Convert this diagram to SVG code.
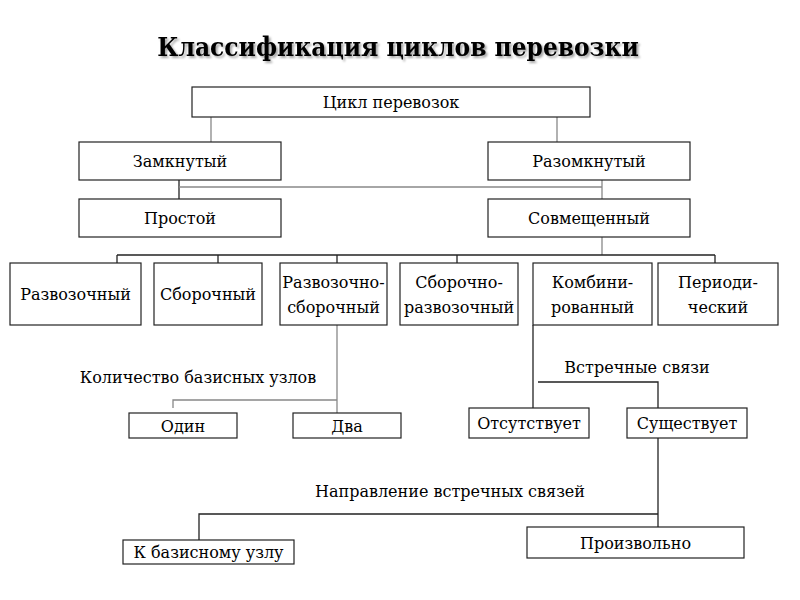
<svg xmlns="http://www.w3.org/2000/svg" width="800" height="600" viewBox="0 0 800 600">
<defs>
<style>
text{font-family:'DejaVu Serif','Liberation Serif',serif;fill:#000;text-anchor:middle}
.t{font-size:16px}
.title{font-size:26px;font-weight:bold;font-stretch:condensed}
rect{fill:#fff;stroke:#222;stroke-width:1.2}
.c line,.c polyline{fill:none;stroke:#222;stroke-width:1.3}
.c .g{stroke:#888}
</style>
<filter id="sh" x="-5%" y="-20%" width="110%" height="150%"><feDropShadow dx="2" dy="2" stdDeviation="1.2" flood-color="#000" flood-opacity="0.35"/></filter>
</defs>
<rect x="0" y="0" width="800" height="600" style="fill:#fff;stroke:none"/>
<text class="title" x="398" y="56" filter="url(#sh)">Классификация циклов перевозки</text>

<g class="c" id="connectors">
<line class="g" x1="211" y1="117" x2="211" y2="142"/>
<line class="g" x1="557" y1="117" x2="557" y2="142"/>
<line x1="179" y1="180" x2="179" y2="199"/>
<line class="g" x1="179" y1="187" x2="602" y2="187"/>
<line class="g" x1="602" y1="180" x2="602" y2="199"/>
<line class="g" x1="602" y1="237" x2="602" y2="255"/>
<line x1="117" y1="255" x2="715" y2="255"/>
<line x1="117" y1="255" x2="117" y2="263"/>
<line x1="218" y1="255" x2="218" y2="263"/>
<line x1="337" y1="255" x2="337" y2="263"/>
<line x1="457" y1="255" x2="457" y2="263"/>
<line x1="715" y1="255" x2="715" y2="263"/>
<line class="g" x1="337" y1="325" x2="337" y2="413"/>
<polyline class="g" points="173,408 173,400 337,400"/>
<line x1="533" y1="325" x2="533" y2="408"/>
<polyline points="538,382 658,382 658,408"/>
<line x1="658" y1="438" x2="658" y2="533"/>
<polyline points="199,540 199,514 658,514"/>
</g>

<g id="n-root"><rect x="192" y="87" width="398" height="30"/><text class="t" x="391" y="108">Цикл перевозок</text></g>
<g id="n-closed"><rect x="79" y="142" width="202" height="38"/><text class="t" x="180" y="167">Замкнутый</text></g>
<g id="n-open"><rect x="488" y="142" width="202" height="38"/><text class="t" x="589" y="167">Разомкнутый</text></g>
<g id="n-simple"><rect x="79" y="199" width="202" height="38"/><text class="t" x="180" y="224">Простой</text></g>
<g id="n-combined"><rect x="488" y="199" width="202" height="38"/><text class="t" x="589" y="224">Совмещенный</text></g>

<g id="n-razv"><rect x="10" y="263" width="131" height="62"/><text class="t" x="75.5" y="300">Развозочный</text></g>
<g id="n-sbor"><rect x="154" y="263" width="108" height="62"/><text class="t" x="208" y="300">Сборочный</text></g>
<g id="n-razvsbor"><rect x="280" y="263" width="107" height="62"/><text class="t" x="333.5" y="288">Развозочно-</text><text class="t" x="333.5" y="313">сборочный</text></g>
<g id="n-sborrazv"><rect x="400" y="263" width="118" height="62"/><text class="t" x="459" y="288">Сборочно-</text><text class="t" x="459" y="313">развозочный</text></g>
<g id="n-komb"><rect x="533" y="263" width="119" height="62"/><text class="t" x="592.5" y="288">Комбини-</text><text class="t" x="592.5" y="313">рованный</text></g>
<g id="n-period"><rect x="658" y="263" width="120" height="62"/><text class="t" x="718" y="288">Периоди-</text><text class="t" x="718" y="313">ческий</text></g>

<g id="l-count"><text class="t" x="198" y="383">Количество базисных узлов</text></g>
<g id="l-vstr"><text class="t" x="637" y="373">Встречные связи</text></g>
<g id="l-dir"><text class="t" x="450" y="497">Направление встречных  связей</text></g>

<g id="n-one"><rect x="129" y="413" width="108" height="25"/><text class="t" x="183" y="432">Один</text></g>
<g id="n-two"><rect x="293" y="413" width="108" height="25"/><text class="t" x="347" y="432">Два</text></g>
<g id="n-absent"><rect x="469" y="408" width="120" height="30"/><text class="t" x="529" y="429">Отсутствует</text></g>
<g id="n-exists"><rect x="627" y="408" width="120" height="30"/><text class="t" x="687" y="429">Существует</text></g>
<g id="n-tobase"><rect x="123" y="540" width="171" height="24"/><text class="t" x="208.5" y="558">К базисному узлу</text></g>
<g id="n-arb"><rect x="527" y="527" width="217" height="31"/><text class="t" x="635.5" y="549">Произвольно</text></g>
</svg>
